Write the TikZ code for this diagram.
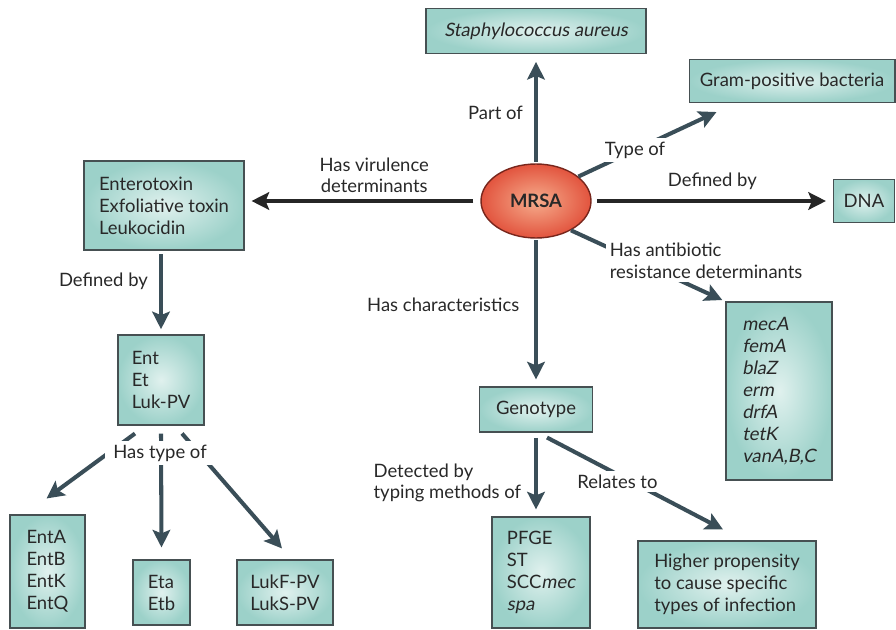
\documentclass[tikz,border=0pt]{standalone}
\usepackage{fontspec}
\setmainfont{Lato}[ItalicFont=Lato,ItalicFeatures={FakeSlant=0.18},BoldFont=Lato Bold]
\usetikzlibrary{arrows.meta,shapes.geometric,calc}
\definecolor{boxin}{RGB}{224,241,238}
\definecolor{boxout}{RGB}{156,209,201}
\definecolor{boxline}{RGB}{70,80,82}
\definecolor{slate}{RGB}{58,78,88}
\definecolor{ink}{RGB}{40,40,40}
\definecolor{redin}{RGB}{246,172,140}
\definecolor{redout}{RGB}{226,84,62}
\definecolor{redline}{RGB}{120,38,28}

\begin{document}
\begin{tikzpicture}[x=0.02cm,y=-0.02cm,
            every node/.style={text=ink,font=\fontsize{10.5}{12.5}\selectfont},
            box/.style={draw=boxline,line width=0.6pt,shading=radial,inner color=boxin,outer color=boxout,align=left},
            arr/.style={draw=slate,line width=2.3pt,-{Stealth[length=10pt,width=10pt,inset=2pt]}},
            blk/.style={arr,draw=black!85},
            lbl/.style={fill=white,inner sep=2pt}]
            \useasboundingbox (0,0) rectangle (896,629);

            \node [ellipse,draw=redline,line width=0.8pt,shading=radial,inner color=redin,outer color=redout,minimum width=2.2cm,minimum height=1.48cm] (M) at (536,201) {\bfseries MRSA};
            \node [box,minimum width=4.4cm,minimum height=0.9cm] (Sa) at (536,31) {\textit{Staphylococcus aureus}};
            \node [box,minimum width=4.12cm,minimum height=0.86cm] (Gp) at (792,81) {Gram-positive bacteria};
            \node [box,minimum width=1.22cm,minimum height=0.86cm] (Dna) at (864,201) {DNA};
            \node [box,minimum width=3.2cm,minimum height=1.78cm] (Tox) at (164,205.5) {Enterotoxin\\Exfoliative toxin\\Leukocidin};
            \node [box,minimum width=1.72cm,minimum height=1.8cm] (Abb) at (161,380) {Ent\\Et\\Luk-PV};
            \node [box,minimum width=1.5cm,minimum height=2.26cm] (Ent) at (47.5,571.5) {EntA\\EntB\\EntK\\EntQ};
            \node [box,minimum width=1.14cm,minimum height=1.3cm] (Et) at (161.5,592.5) {Eta\\Etb};
            \node [box,minimum width=1.92cm,minimum height=1.3cm] (Luk) at (285,592.5) {LukF-PV\\LukS-PV};
            \node [box,minimum width=2.26cm,minimum height=0.9cm] (Geno) at (536,409.5) {Genotype};
            \node [box,minimum width=2.12cm,minimum height=3.56cm] (Res) at (779,391) {\textit{mecA}\\\textit{femA}\\\textit{blaZ}\\\textit{erm}\\\textit{drfA}\\\textit{tetK}\\\textit{vanA,B,C}};
            \node [box,minimum width=1.96cm,minimum height=2.22cm] (Typ) at (541,572.5) {PFGE\\ST\\SCC\textit{mec}\\\textit{spa}};
            \node [box,minimum width=3.56cm,minimum height=1.74cm] (Inf) at (727,584.5) {Higher propensity\\to cause specific\\types of infection};

            \draw [arr,shorten <=1pt,shorten >=4.5pt] (M) to node [left=3pt,pos=0.46] {Part of} (Sa);
            \draw [arr] (M.30) to node [lbl,pos=0.41] {Type of} ($(Gp.south west)+(28,9)$);
            \draw [blk,shorten <=3pt,shorten >=4pt] (M) to node [above=2pt] {Defined by} (Dna);
            \draw [blk,shorten <=4pt,shorten >=4pt] (M.west) to node [above,pos=0.45,align=center] {Has virulence\\determinants} (M.west -| Tox.east);
            \draw [arr,shorten >=2pt] (M.-40) to (Res.north west);
            \node [lbl,align=left,anchor=west] (Abr) at (606,261) {Has antibiotic\\resistance determinants};
            \draw [arr,shorten <=1pt,shorten >=4pt] (M) to node [left=5pt,pos=0.45] {Has characteristics} (Geno);
            \draw [arr,shorten <=3pt,shorten >=4pt] (Geno.south) to node [left=4pt,pos=0.6,align=left] {Detected by\\typing methods of} (Geno.south |- Typ.north);
            \draw [arr] ($(Geno.south)+(11,5)$) to node [lbl,pos=0.4,yshift=-4pt] {Relates to} ($(Inf.north)+(-4,-11)$);

            \draw [arr,shorten <=2pt,shorten >=3pt] (Abb.north |- Tox.south) to node [left=3pt,pos=0.37] {Defined by} (Abb.north);
            \draw [arr] ($(Abb.south)+(-26,8)$) to ($(Ent.north)+(-1,-16)$);
            \draw [arr] ($(Abb.south)+(0,8)$) to ($(Et.north)+(0,-12)$);
            \draw [arr] ($(Abb.south)+(21,8)$) to ($(Luk.north)+(-3,-11)$);
            \node [lbl,inner xsep=5pt] (Ht) at (160,453) {Has type of};
\end{tikzpicture}
\end{document}
